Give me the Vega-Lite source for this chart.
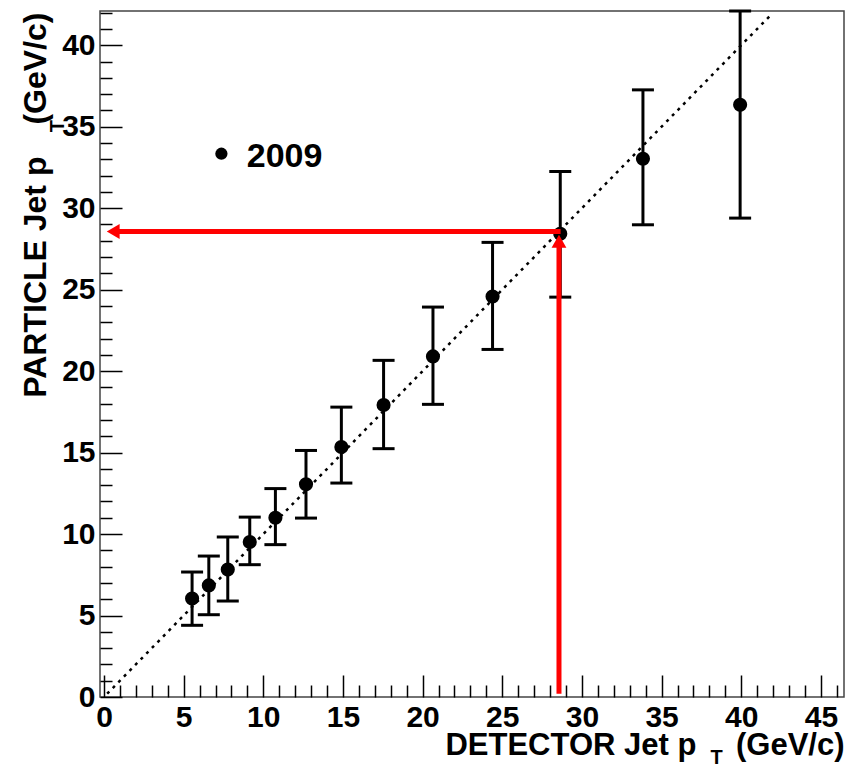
{
  "$schema": "https://vega.github.io/schema/vega-lite/v6.json",
  "autosize": {"type": "none"},
  "padding": {"left": 100, "top": 11, "right": 11, "bottom": 72},
  "width": 744,
  "height": 686,
  "background": "white",
  "config": {
    "view": {"stroke": "#444444", "strokeWidth": 1.5},
    "font": "Liberation Sans"
  },
  "datasets": {
    "points": [
      {"pt_det": 5.53, "pt_part": 6.04, "lo": 4.40, "hi": 7.67},
      {"pt_det": 6.58, "pt_part": 6.85, "lo": 5.05, "hi": 8.65},
      {"pt_det": 7.77, "pt_part": 7.82, "lo": 5.89, "hi": 9.82},
      {"pt_det": 9.15, "pt_part": 9.51, "lo": 8.12, "hi": 11.04},
      {"pt_det": 10.76, "pt_part": 11.00, "lo": 9.35, "hi": 12.79},
      {"pt_det": 12.68, "pt_part": 13.05, "lo": 10.98, "hi": 15.13},
      {"pt_det": 14.90, "pt_part": 15.34, "lo": 13.13, "hi": 17.79},
      {"pt_det": 17.55, "pt_part": 17.92, "lo": 15.24, "hi": 20.66},
      {"pt_det": 20.65, "pt_part": 20.90, "lo": 17.96, "hi": 23.93},
      {"pt_det": 24.39, "pt_part": 24.58, "lo": 21.33, "hi": 27.90},
      {"pt_det": 28.64, "pt_part": 28.43, "lo": 24.54, "hi": 32.25},
      {"pt_det": 33.83, "pt_part": 33.03, "lo": 28.98, "hi": 37.26},
      {"pt_det": 39.93, "pt_part": 36.34, "lo": 29.39, "hi": 42.10}
    ],
    "diag": [{"x": 0.2, "y": 0.2}, {"x": 41.85, "y": 41.85}],
    "arrows": [
      {"x": 0.58, "y": 28.57, "x2": 28.66, "y2": 28.57},
      {"x": 28.56, "y": 0.2, "x2": 28.56, "y2": 27.97}
    ],
    "headLeft": [{"x": 0.58, "y": 28.57}],
    "headUp": [{"x": 28.56, "y": 27.97}],
    "legendMark": [{"x": 7.37, "y": 33.34}],
    "legendText": [{"x": 8.96, "y": 32.52, "label": "2009"}],
    "subX": [{"x": 38.45, "y": -4.1, "label": "T"}],
    "subY": [{"x": -2.54, "y": 35.03, "label": "T"}],
    "majorX": [{"v": 0}],
    "minorX": [{"v": 0}]
  },
  "layer": [
    {
      "data": {"name": "majorX"},
      "mark": {"type": "point", "opacity": 0},
      "encoding": {
        "x": {"field": "v", "type": "quantitative",
          "scale": {"domain": [-0.25, 46.45], "nice": false, "zero": false},
          "axis": {"orient": "bottom", "values": [0,5,10,15,20,25,30,35,40,45], "format": "d",
            "tickSize": -22, "tickWidth": 1.5, "tickColor": "#000000", "domain": false, "grid": false,
            "labelFont": "Liberation Sans", "labelFontWeight": "bold", "labelFontSize": 30, "labelColor": "#000000",
            "labelPadding": 27, "labelFlush": false, "labelOverlap": false, "labelBaseline": "top",
            "title": "DETECTOR Jet p\u2003 (GeV/c)", "titleFont": "Liberation Sans", "titleFontSize": 31, "titleFontWeight": "bold",
            "titleColor": "#000000", "titleAlign": "right", "titleAnchor": "end", "titleBaseline": "alphabetic",
            "titleX": 744, "titleY": 57.3}},
        "y": {"field": "v", "type": "quantitative",
          "scale": {"domain": [0, 42.1], "nice": false, "zero": false},
          "axis": {"orient": "left", "values": [0,5,10,15,20,25,30,35,40], "format": "d",
            "tickSize": -22, "tickWidth": 1.5, "tickColor": "#000000", "domain": false, "grid": false,
            "labelFont": "Liberation Sans", "labelFontWeight": "bold", "labelFontSize": 30, "labelColor": "#000000",
            "labelPadding": 27, "labelFlush": false, "labelOverlap": false, "labelBaseline": "middle",
            "title": "PARTICLE Jet p\u2002\u2002(GeV/c)", "titleFont": "Liberation Sans", "titleFontSize": 32, "titleFontWeight": "bold",
            "titleColor": "#000000", "titleAngle": 270, "titleAlign": "right", "titleAnchor": "end", "titleBaseline": "alphabetic",
            "titleX": -55, "titleY": 1}}
      }
    },
    {
      "data": {"name": "minorX"},
      "mark": {"type": "point", "opacity": 0},
      "encoding": {
        "x": {"field": "v", "type": "quantitative",
          "scale": {"domain": [-0.25, 46.45], "nice": false, "zero": false},
          "axis": {"orient": "bottom", "values": [1,2,3,4,6,7,8,9,11,12,13,14,16,17,18,19,21,22,23,24,26,27,28,29,31,32,33,34,36,37,38,39,41,42,43,44,46],
            "tickSize": -12, "tickWidth": 1.5, "tickColor": "#000000", "domain": false, "grid": false,
            "labels": false, "title": null}},
        "y": {"field": "v", "type": "quantitative",
          "scale": {"domain": [0, 42.1], "nice": false, "zero": false},
          "axis": {"orient": "left", "values": [1,2,3,4,6,7,8,9,11,12,13,14,16,17,18,19,21,22,23,24,26,27,28,29,31,32,33,34,36,37,38,39,41,42],
            "tickSize": -12, "tickWidth": 1.5, "tickColor": "#000000", "domain": false, "grid": false,
            "labels": false, "title": null}}
      }
    },
    {
      "data": {"name": "diag"},
      "mark": {"type": "line", "color": "#000000", "strokeWidth": 2.5, "strokeDash": [3, 5]},
      "encoding": {
        "x": {"field": "x", "type": "quantitative", "scale": {"domain": [-0.25, 46.45], "nice": false, "zero": false}, "axis": null},
        "y": {"field": "y", "type": "quantitative", "scale": {"domain": [0, 42.1], "nice": false, "zero": false}, "axis": null}
      }
    },
    {
      "data": {"name": "points"},
      "mark": {"type": "rule", "color": "#000000", "strokeWidth": 3},
      "encoding": {
        "x": {"field": "pt_det", "type": "quantitative", "scale": {"domain": [-0.25, 46.45], "nice": false, "zero": false}, "axis": null},
        "y": {"field": "lo", "type": "quantitative", "scale": {"domain": [0, 42.1], "nice": false, "zero": false}, "axis": null},
        "y2": {"field": "hi"}
      }
    },
    {
      "data": {"name": "points"},
      "mark": {"type": "tick", "orient": "horizontal", "color": "#000000", "size": 22, "thickness": 3, "opacity": 1},
      "encoding": {
        "x": {"field": "pt_det", "type": "quantitative", "scale": {"domain": [-0.25, 46.45], "nice": false, "zero": false}, "axis": null},
        "y": {"field": "lo", "type": "quantitative", "scale": {"domain": [0, 42.1], "nice": false, "zero": false}, "axis": null}
      }
    },
    {
      "data": {"name": "points"},
      "mark": {"type": "tick", "orient": "horizontal", "color": "#000000", "size": 22, "thickness": 3, "opacity": 1},
      "encoding": {
        "x": {"field": "pt_det", "type": "quantitative", "scale": {"domain": [-0.25, 46.45], "nice": false, "zero": false}, "axis": null},
        "y": {"field": "hi", "type": "quantitative", "scale": {"domain": [0, 42.1], "nice": false, "zero": false}, "axis": null}
      }
    },
    {
      "data": {"name": "points"},
      "mark": {"type": "circle", "color": "#000000", "size": 200, "opacity": 1},
      "encoding": {
        "x": {"field": "pt_det", "type": "quantitative", "scale": {"domain": [-0.25, 46.45], "nice": false, "zero": false}, "axis": null},
        "y": {"field": "pt_part", "type": "quantitative", "scale": {"domain": [0, 42.1], "nice": false, "zero": false}, "axis": null}
      }
    },
    {
      "data": {"name": "arrows"},
      "mark": {"type": "rule", "color": "#ff0000", "strokeWidth": 5},
      "encoding": {
        "x": {"field": "x", "type": "quantitative", "scale": {"domain": [-0.25, 46.45], "nice": false, "zero": false}, "axis": null},
        "y": {"field": "y", "type": "quantitative", "scale": {"domain": [0, 42.1], "nice": false, "zero": false}, "axis": null},
        "x2": {"field": "x2"},
        "y2": {"field": "y2"}
      }
    },
    {
      "data": {"name": "headLeft"},
      "mark": {"type": "point", "shape": "triangle-left", "filled": true, "color": "#ff0000", "size": 220, "opacity": 1},
      "encoding": {
        "x": {"field": "x", "type": "quantitative", "scale": {"domain": [-0.25, 46.45], "nice": false, "zero": false}, "axis": null},
        "y": {"field": "y", "type": "quantitative", "scale": {"domain": [0, 42.1], "nice": false, "zero": false}, "axis": null}
      }
    },
    {
      "data": {"name": "headUp"},
      "mark": {"type": "point", "shape": "triangle-up", "filled": true, "color": "#ff0000", "size": 220, "opacity": 1},
      "encoding": {
        "x": {"field": "x", "type": "quantitative", "scale": {"domain": [-0.25, 46.45], "nice": false, "zero": false}, "axis": null},
        "y": {"field": "y", "type": "quantitative", "scale": {"domain": [0, 42.1], "nice": false, "zero": false}, "axis": null}
      }
    },
    {
      "data": {"name": "legendMark"},
      "mark": {"type": "circle", "color": "#000000", "size": 150, "opacity": 1},
      "encoding": {
        "x": {"field": "x", "type": "quantitative", "scale": {"domain": [-0.25, 46.45], "nice": false, "zero": false}, "axis": null},
        "y": {"field": "y", "type": "quantitative", "scale": {"domain": [0, 42.1], "nice": false, "zero": false}, "axis": null}
      }
    },
    {
      "data": {"name": "legendText"},
      "mark": {"type": "text", "align": "left", "baseline": "alphabetic", "font": "Liberation Sans", "fontWeight": "bold", "fontSize": 34, "color": "#000000"},
      "encoding": {
        "x": {"field": "x", "type": "quantitative", "scale": {"domain": [-0.25, 46.45], "nice": false, "zero": false}, "axis": null},
        "y": {"field": "y", "type": "quantitative", "scale": {"domain": [0, 42.1], "nice": false, "zero": false}, "axis": null},
        "text": {"field": "label"}
      }
    },
    {
      "data": {"name": "subX"},
      "mark": {"type": "text", "align": "center", "baseline": "alphabetic", "font": "Liberation Sans", "fontWeight": "bold", "fontSize": 20, "color": "#000000"},
      "encoding": {
        "x": {"field": "x", "type": "quantitative", "scale": {"domain": [-0.25, 46.45], "nice": false, "zero": false}, "axis": null},
        "y": {"field": "y", "type": "quantitative", "scale": {"domain": [0, 42.1], "nice": false, "zero": false}, "axis": null},
        "text": {"field": "label"}
      }
    },
    {
      "data": {"name": "subY"},
      "mark": {"type": "text", "align": "center", "baseline": "alphabetic", "angle": 270, "font": "Liberation Sans", "fontWeight": "bold", "fontSize": 20, "color": "#000000"},
      "encoding": {
        "x": {"field": "x", "type": "quantitative", "scale": {"domain": [-0.25, 46.45], "nice": false, "zero": false}, "axis": null},
        "y": {"field": "y", "type": "quantitative", "scale": {"domain": [0, 42.1], "nice": false, "zero": false}, "axis": null},
        "text": {"field": "label"}
      }
    }
  ],
  "resolve": {"axis": {"x": "independent", "y": "independent"}}
}
